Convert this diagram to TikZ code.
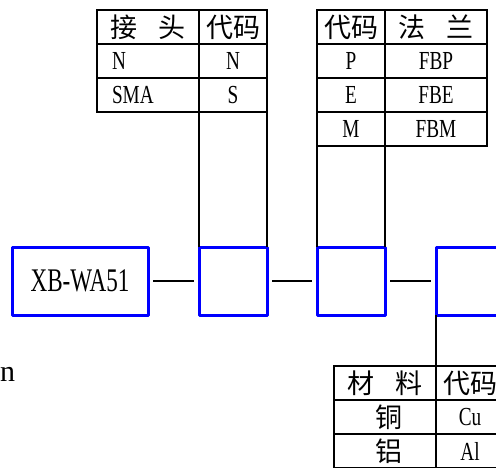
\documentclass[tikz,border=0pt]{standalone}
\usepackage{fontspec}
\setmainfont{Liberation Serif}
\newfontfamily\cjk{Noto Sans CJK SC}
\newfontfamily\tabfont[FakeStretch=0.74]{Liberation Serif}
\newfontfamily\boxfont[FakeStretch=0.7]{Liberation Serif}
\usetikzlibrary{positioning,calc}

\begin{document}
\begin{tikzpicture}[x=1pt, y=-1pt,
    cell/.style={draw, line width=1.2pt, inner sep=0pt, outer sep=0pt, minimum height=34pt,
        anchor=north west, font=\tabfont\fontsize{26}{26}\selectfont},
    wide/.style={minimum width=102pt},
    narrow/.style={minimum width=68pt},
    lcell/.style={cell, inner xsep=15pt, text width=72pt, align=left},
    head/.style={font=\cjk\fontsize{27}{27}\selectfont},
    part/.style={draw=blue, line width=3pt, line join=round, outer sep=0pt, minimum height=68pt},
    link/.style={line width=1.5pt, shorten <=5pt, shorten >=5pt},
    rail/.style={line width=1.2pt}]

\useasboundingbox (0,0) rectangle (496,467);
\clip (0,0) rectangle (496,467);

% Connector table
\node[cell, wide, head] (j0) at (97,10) {接\hspace{0.8em}头};
\node[cell, narrow, head] (k0) at (199,10) {代码};
\node[lcell] (j1) at (97,44) {N};
\node[cell, narrow] (k1) at (199,44) {N};
\node[lcell] (j2) at (97,78) {SMA};
\node[cell, narrow] (k2) at (199,78) {S};

% Flange table
\node[cell, narrow, head] (f0) at (317,10) {代码};
\node[cell, wide, head] (g0) at (385,10) {法\hspace{0.8em}兰};
\node[cell, narrow] (f1) at (317,44) {P};
\node[cell, wide] (g1) at (385,44) {FBP};
\node[cell, narrow] (f2) at (317,78) {E};
\node[cell, wide] (g2) at (385,78) {FBE};
\node[cell, narrow] (f3) at (317,112) {M};
\node[cell, wide] (g3) at (385,112) {FBM};

% Model boxes
\node[part, minimum width=136pt, font=\boxfont\fontsize{33}{33}\selectfont] (xb) at (80,281) {XB-WA51};
\node[part, minimum width=68pt] (conn) at (233,281) {};
\node[part, minimum width=68pt] (flange) at (351,281) {};
\node[part, minimum width=68pt] (mat) at (470,281) {};

% Material table
\node[cell, wide, head] (m0) at (334,366) {材\hspace{0.8em}料};
\node[cell, narrow, head] (c0) at (436,366) {代码};
\node[cell, wide, head] (m1) at (334,400) {\hspace{8pt}铜};
\node[cell, narrow] (c1) at (436,400) {Cu};
\node[cell, wide, head] (m2) at (334,434) {\hspace{8pt}铝};
\node[cell, narrow] (c2) at (436,434) {Al};

\node[anchor=base west, inner sep=0pt, font=\fontsize{30}{30}\selectfont] (n) at (0,381) {n};

% Connections
\foreach \from/\to in {xb/conn, conn/flange, flange/mat}
    \draw[link] (\from) -- (\to);

% Table rails
\draw[rail] (k2.south west) -- (conn.north west);
\draw[rail] (k2.south east) -- (conn.north east);
\draw[rail] (f3.south west) -- (flange.north west);
\draw[rail] (f3.south east) -- (flange.north east);
\draw[rail] (mat.south west) -- (c0.north west);

\end{tikzpicture}
\end{document}
